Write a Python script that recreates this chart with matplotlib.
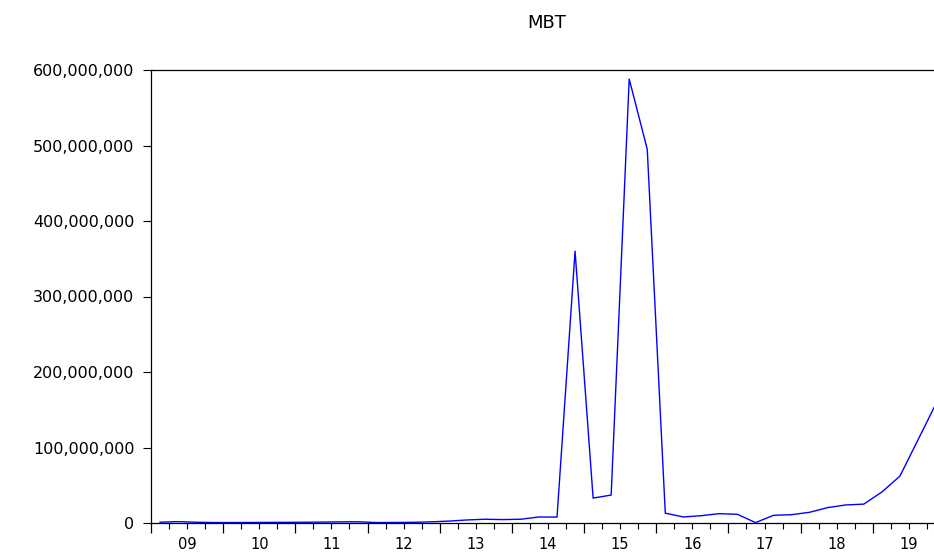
import matplotlib
matplotlib.use("Agg")
import matplotlib.pyplot as plt
from matplotlib.ticker import FixedLocator, FuncFormatter
import numpy as np

# Quarterly periods 2009Q1 .. 2019Q4
years = [2009, 2010, 2011, 2012, 2013, 2014, 2015, 2016, 2017, 2018, 2019]
quarters = [1, 2, 3, 4]
year_labels = ["09", "10", "11", "12", "13", "14", "15", "16", "17", "18", "19"]

# MBT values (millions)
mbt_millions = [
    1.0, 1.8, 1.0, 0.6,
    0.6, 0.7, 0.8, 0.9,
    1.0, 1.2, 1.5, 1.6,
    0.6, 0.7, 0.9, 1.5,
    2.5, 4.0, 5.0, 4.5,
    5.0, 8.0, 7.8, 360.0,
    33.0, 37.0, 588.0, 495.0,
    13.0, 8.0, 9.7, 12.4,
    11.5, 0.5, 10.2, 11.0,
    14.2, 20.4, 23.9, 25.0,
    41.0, 62.0, 110.0, 158.0,
]

x = np.array([y + (q - 0.5) / 4.0 for y in years for q in quarters])
vals = np.array(mbt_millions) * 1e6

W, H = 934, 555
fig = plt.figure(figsize=(W / 100, H / 100), dpi=100)
left_px, right_px, top_px, bot_px = 151, 945, 70, 523
ax = fig.add_axes([left_px / W, (H - bot_px) / H,
                   (right_px - left_px) / W, (bot_px - top_px) / H])

ax.plot(x, vals, color="#0000ff", linewidth=1.0)

ax.set_xlim(years[0], years[-1] + 1)
ax.set_ylim(0, 600e6)

ax.spines["right"].set_visible(False)
for s in ("left", "top", "bottom"):
    ax.spines[s].set_linewidth(0.9)
    ax.spines[s].set_color("black")

font = "DejaVu Sans"
ax.set_yticks(np.arange(0, 600e6 + 1, 100e6))
ax.yaxis.set_major_formatter(FuncFormatter(lambda v, p: f"{int(v):,}"))
ax.tick_params(axis="y", direction="out", length=6, width=0.8, pad=6,
               labelsize=11.5, labelcolor="black")

# x ticks: major at year boundaries, minor at quarter boundaries, labels mid-year
ax.xaxis.set_major_locator(FixedLocator([float(y) for y in years] + [years[-1] + 1.0]))
ax.xaxis.set_major_formatter(FuncFormatter(lambda v, p: ""))
minor_pos = [y + q / 4.0 for y in years for q in (1, 2, 3)]
ax.xaxis.set_minor_locator(FixedLocator(minor_pos))
lab_map = {round(y + 0.5, 3): lab for y, lab in zip(years, year_labels)}
ax.xaxis.set_minor_formatter(FuncFormatter(lambda v, p: lab_map.get(round(v, 3), "")))
ax.tick_params(axis="x", which="major", direction="out", length=7.5, width=0.9)
ax.tick_params(axis="x", which="minor", direction="out", length=4, width=0.8,
               pad=6, labelsize=10.5)

for lab in ax.get_xticklabels(minor=True) + ax.get_yticklabels():
    lab.set_family(font)

fig.text(547 / W, 1 - 23 / H, "MBT", ha="center", va="center",
         fontsize=13, family=font)

fig.savefig("out.png", dpi=100)
